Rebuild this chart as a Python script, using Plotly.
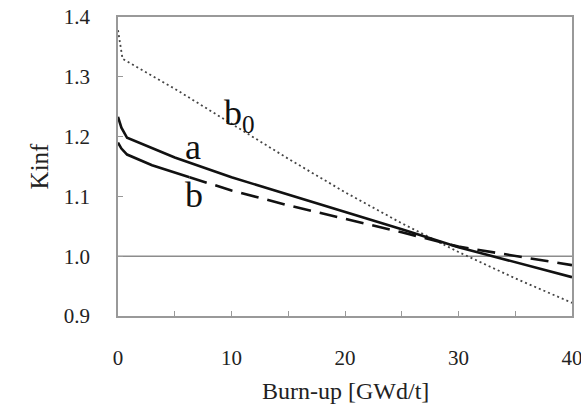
import plotly.graph_objects as go

# Data
a_x = [0, 0.3, 0.8, 5, 10, 15, 20, 25, 30, 35, 40]
a_y = [1.233, 1.215, 1.198, 1.165, 1.132, 1.103, 1.075, 1.045, 1.015, 0.99, 0.965]

b_solid_x = [0, 0.3, 0.8, 3, 6.3]
b_solid_y = [1.19, 1.18, 1.17, 1.152, 1.132]

b_dash_x = [6.3, 10, 15, 20, 25, 30, 35, 40]
b_dash_y = [1.132, 1.11, 1.085, 1.063, 1.04, 1.016, 1.0, 0.985]

b0_x = [0, 0.4, 5, 10, 15, 20, 25, 30, 35, 40]
b0_y = [1.378, 1.33, 1.28, 1.222, 1.163, 1.107, 1.055, 1.007, 0.963, 0.922]

ref_level = 1.0
x_range = [0, 40]
y_range = [0.9, 1.4]
x_ticks = [0, 10, 20, 30, 40]
y_ticks = [0.9, 1.0, 1.1, 1.2, 1.3, 1.4]
y_ticktext = ["0.9", "1.0", "1.1", "1.2", "1.3", "1.4"]
x_title = "Burn-up [GWd/t]"
y_title = "Kinf"

labels = [("a", 6.6, 1.182), ("b", 6.7, 1.103), ("b<sub>0</sub>", 10.7, 1.235)]

FONT = "Liberation Serif"

fig = go.Figure()
fig.add_trace(go.Scatter(x=x_range, y=[ref_level, ref_level], mode="lines",
                         line=dict(color="#8c8c8c", width=1.5), showlegend=False, hoverinfo="skip"))
fig.add_trace(go.Scatter(x=b0_x, y=b0_y, mode="lines",
                         line=dict(color="#444444", width=1.8, dash="2px,3px"), showlegend=False))
fig.add_trace(go.Scatter(x=a_x, y=a_y, mode="lines",
                         line=dict(color="#111111", width=2.6), showlegend=False))
fig.add_trace(go.Scatter(x=b_solid_x, y=b_solid_y, mode="lines",
                         line=dict(color="#111111", width=2.6), showlegend=False))
fig.add_trace(go.Scatter(x=b_dash_x, y=b_dash_y, mode="lines",
                         line=dict(color="#111111", width=2.6, dash="18px,9px"), showlegend=False))

for txt, lx, ly in labels:
    fig.add_annotation(x=lx, y=ly, text=txt, showarrow=False,
                       font=dict(family=FONT, size=36, color="#111111"))

# x-axis title placed below the tick labels
fig.add_annotation(x=0.5, xref="paper", y=-0.252, yref="paper", yanchor="middle",
                   text=x_title, showarrow=False, borderpad=0,
                   font=dict(family=FONT, size=24, color="#222222"))

fig.update_layout(
    width=581, height=408,
    margin=dict(l=118, r=9, t=17, b=92),
    paper_bgcolor="white", plot_bgcolor="white",
    font=dict(family=FONT, color="#222222"),
)
fig.update_xaxes(
    range=x_range, tickvals=x_ticks, ticks="inside", ticklen=5, tickcolor="#999999",
    minor=dict(dtick=5, ticks="inside", ticklen=5, tickcolor="#999999"),
    showline=True, linecolor="#999999", linewidth=1.5, mirror=True,
    showgrid=False, zeroline=False, automargin=False, ticklabeloverflow="allow",
    tickfont=dict(size=21), ticklabelstandoff=22,
)
fig.update_yaxes(
    range=y_range, tickvals=y_ticks, ticktext=y_ticktext, ticks="inside", ticklen=5, tickcolor="#999999",
    showline=True, linecolor="#999999", linewidth=1.5, mirror=True,
    showgrid=False, zeroline=False, automargin=False, ticklabeloverflow="allow",
    tickfont=dict(size=21), ticklabelstandoff=22,
    title=dict(text=y_title, font=dict(size=25), standoff=8),
)

fig.write_html("out.html")
